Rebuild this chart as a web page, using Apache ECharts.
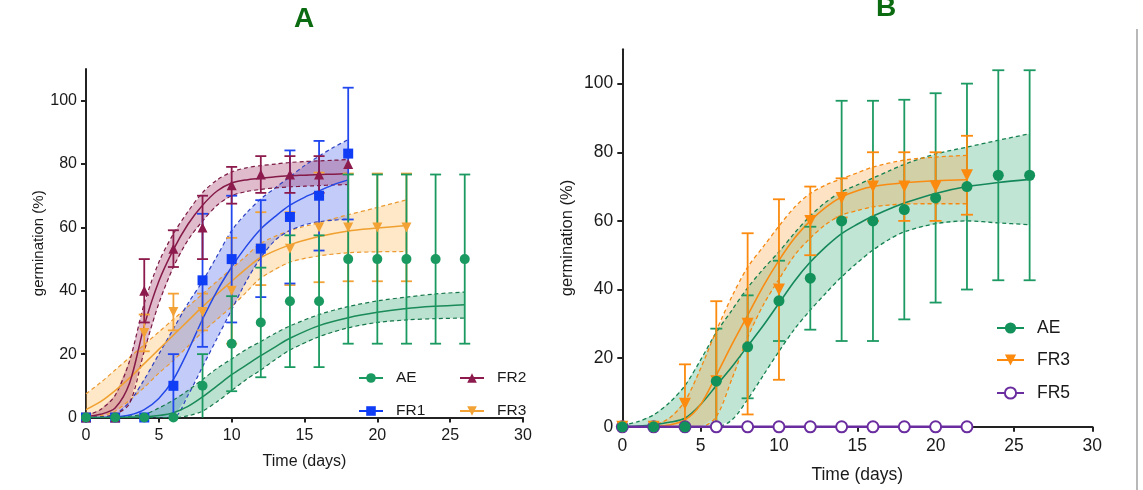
<!DOCTYPE html>
<html>
<head>
<meta charset="utf-8">
<script src="https://cdn.jsdelivr.net/npm/echarts@6/dist/echarts.min.js"></script>
<style>
  html, body { margin: 0; padding: 0; background: #fff; }
  #chart { width: 1143px; height: 490px; }
</style>
</head>
<body>
<div id="chart"></div>
<script>
// ===================== Panel A: observed germination (mean, SD) =====================
const aDaysAE  = [0, 2, 4, 6, 8, 10, 12, 14, 16, 18, 20, 22, 24, 26];
const aMeanAE  = [0, 0, 0, 0, 10, 23.3, 30, 36.7, 36.7, 50, 50, 50, 50, 50];
const aSdAE    = [0, 0, 0, 0, 10, 15, 17.3, 20.8, 20.8, 26.7, 26.7, 26.7, 26.7, 26.7];

const aDaysFR1 = [0, 2, 4, 6, 8, 10, 12, 14, 16, 18];
const aMeanFR1 = [0, 0, 0, 10, 43.3, 50, 53.3, 63.3, 70, 83.3];
const aSdFR1   = [0, 0, 0, 10, 21, 20, 15.3, 21, 17.3, 20.8];

const aDaysFR2 = [0, 2, 4, 6, 8, 10, 12, 14, 16, 18];
const aMeanFR2 = [0, 0, 40, 53.3, 60, 73.3, 76.7, 76.7, 76.7, 80];
const aSdFR2   = [0, 0, 10, 5.8, 10, 5.8, 5.8, 5.8, 5.8, 0];

const aDaysFR3 = [0, 2, 4, 6, 8, 10, 12, 14, 16, 18, 20, 22];
const aMeanFR3 = [0, 0, 26.7, 33.3, 33.3, 40, 53.3, 53.3, 60, 60, 60, 60];
const aSdFR3   = [0, 0, 5.8, 5.8, 5.8, 16.7, 11.5, 11.5, 17.3, 17, 17, 17];

// ===================== Panel A: fitted curves with confidence bands =====================
const aFitXAE  = [0, 2, 4, 5, 6, 7, 8, 9, 10, 11, 12, 13, 14, 16, 18, 20, 22, 24, 26];
const aFitAE   = [0, 0, 0.2, 0.6, 1.5, 3.5, 6.5, 10, 13.5, 16.5, 19.5, 22.3, 25, 29, 31.5, 33.2, 34.4, 35.1, 35.6];
const aHiAE    = [0, 0.2, 1, 3, 5.5, 8.5, 12, 15.5, 18.5, 21.5, 24, 26.6, 28.9, 32.5, 35, 36.8, 38, 39, 39.6];
const aLoAE    = [0, 0, 0, 0, 0, 0.5, 2, 5, 8.5, 12, 15, 18.3, 21.3, 25.5, 28.3, 30, 30.8, 31.2, 31.4];

const aFitXFR1 = [0, 1, 2, 3, 4, 5, 6, 7, 8, 9, 10, 11, 12, 13, 14, 15, 16, 17, 18];
const aFitFR1  = [0, 0, 0.2, 0.8, 2.5, 6, 12, 21, 31, 40, 47.5, 54, 59.5, 63.5, 67, 69.5, 71.5, 73.5, 75];
const aHiFR1   = [0, 0.1, 1, 5, 12, 20, 28, 36, 43, 51, 59, 64.5, 69, 72.5, 76, 79.5, 82.5, 85.3, 87.7];
const aLoFR1   = [0, 0, 0, 0, 0, 0, 0, 7, 16, 25, 34, 43, 50.5, 56, 59, 60.8, 61.8, 62.3, 62.6];

const aFitXFR2 = [0, 1, 2, 3, 4, 5, 6, 7, 8, 9, 10, 11, 12, 13, 14, 15, 16, 17, 18];
const aFitFR2  = [0.3, 1, 3, 11, 29, 43, 53, 61, 67, 71.5, 74, 75, 75.5, 76, 76.3, 76.5, 76.7, 76.8, 77];
const aHiFR2   = [0.6, 2.5, 7, 18, 36, 49, 58, 65, 71, 75, 77.5, 78.8, 79.5, 80, 80.5, 80.8, 81, 81.2, 81.4];
const aLoFR2   = [0, 0.2, 1, 4.5, 21, 36, 47.5, 56, 62, 67, 70, 71.3, 72, 72.5, 72.8, 73, 73.2, 73.4, 73.5];

const aFitXFR3 = [0, 1, 2, 3, 4, 5, 6, 7, 8, 9, 10, 11, 12, 14, 16, 18, 20, 22];
const aFitFR3  = [2.5, 5, 8.5, 12.5, 17, 21.5, 26, 30.5, 35, 39, 43, 47, 50.5, 54.5, 57.1, 58.9, 59.8, 60.6];
const aHiFR3   = [7.5, 11, 15, 19, 23, 27, 31, 35, 39, 43, 47, 51, 55, 59, 61.5, 64, 66.3, 68.7];
const aLoFR3   = [0, 0.5, 2, 5.5, 9.5, 14, 18, 22.5, 27, 31, 35, 39.5, 44, 49, 51, 52, 52.3, 52.4];

// ===================== Panel B: observed germination (mean, SD) =====================
const bDaysAE  = [0, 2, 4, 6, 8, 10, 12, 14, 16, 18, 20, 22, 24, 26];
const bMeanAE  = [0, 0, 0, 13.3, 23.3, 36.7, 43.3, 60, 60, 63.3, 66.7, 70, 73.3, 73.3];
const bSdAE    = [0, 0, 0, 15.3, 15, 11.7, 15, 35, 35, 32, 30.5, 30, 30.6, 30.6];

const bDaysFR3 = [0, 2, 4, 6, 8, 10, 12, 14, 16, 18, 20, 22];
const bMeanFR3 = [0, 0, 6.7, 13.3, 30, 40, 60, 66.7, 70, 70, 70, 73.3];
const bSdFR3   = [0, 0, 11.5, 23.3, 26.4, 26.3, 10, 5.7, 10, 10, 10, 11.5];

const bDaysFR5 = [0, 2, 4, 6, 8, 10, 12, 14, 16, 18, 20, 22];
const bMeanFR5 = [0, 0, 0, 0, 0, 0, 0, 0, 0, 0, 0, 0];

// ===================== Panel B: fitted curves with confidence bands =====================
const bFitXAE  = [0, 1, 2, 3, 4, 5, 6, 7, 8, 9, 10, 11, 12, 13, 14, 15, 16, 17, 18, 20, 22, 24, 26];
const bFitAE   = [0, 0.2, 0.6, 1.3, 2.5, 6.5, 12, 17.5, 23.5, 29.5, 36, 42.5, 48, 52.5, 56.3, 59, 61.4, 63.4, 65.2, 68, 70, 71.2, 72.1];
const bHiAE    = [0.5, 1.5, 3.5, 7, 12, 19.5, 27.5, 34, 40.5, 46, 51, 56.5, 61.5, 65.5, 68.5, 70.5, 72.5, 74.5, 76.5, 79.5, 81.5, 83.5, 85.4];
const bLoAE    = [0, 0, 0, 0, 0, 0, 0, 2, 8, 15, 22, 28.5, 34, 39, 43.7, 47.8, 51.5, 54.5, 56.8, 59.2, 60, 59.4, 58.9];

const bFitXFR3 = [0, 1, 2, 3, 4, 5, 6, 7, 8, 9, 10, 11, 12, 13, 14, 15, 16, 18, 20, 22];
const bFitFR3  = [0, 0, 0.1, 0.5, 2, 6.5, 15, 24, 32.5, 41, 48.5, 55, 60, 64, 67, 68.8, 70, 71.1, 71.7, 72];
const bHiFR3   = [0, 0, 0.5, 2.5, 7.5, 17, 28, 38, 46.5, 52.5, 58.5, 64, 68, 70.5, 72.3, 74, 75.7, 77.7, 78.6, 79.1];
const bLoFR3   = [0, 0, 0, 0, 0, 0, 3, 14, 26, 35.5, 43, 50, 55, 59, 61.7, 63, 64.1, 64.9, 65, 65];

// Axis tick values
const xTicks = [0, 5, 10, 15, 20, 25, 30];
const yTicks = [0, 20, 40, 60, 80, 100];

// ===================== helpers =====================
const FONT = 'Liberation Sans, Arial, sans-serif';
const pairs = (xs, ys) => xs.map((x, i) => [x, ys[i]]);

// Shaded confidence band as one polygon between lower and upper bounds
function band(gi, xs, lo, hi, fill) {
  return {
    type: 'custom', xAxisIndex: gi, yAxisIndex: gi, silent: true, z: 1,
    data: [[xs[0], lo[0]]],
    renderItem: (params, api) => {
      const pts = [];
      for (let i = 0; i < xs.length; i++) pts.push(api.coord([xs[i], hi[i]]));
      for (let i = xs.length - 1; i >= 0; i--) pts.push(api.coord([xs[i], lo[i]]));
      return { type: 'polygon', shape: { points: pts }, style: { fill: fill } };
    }
  };
}

// Plain curve (fit line or dashed band edge)
function curve(gi, xs, ys, color, width, dashed, z) {
  return {
    type: 'line', xAxisIndex: gi, yAxisIndex: gi, silent: true, z: z,
    data: pairs(xs, ys), smooth: 0.3, symbol: 'none', showSymbol: false,
    lineStyle: { color: color, width: width, type: dashed ? [4, 3] : 'solid' }
  };
}

// Vertical error bars (mean ± SD), lower end held at 0
function errBars(gi, xs, mean, sd, color, cap) {
  const data = [];
  xs.forEach((x, i) => {
    if (sd[i] > 0) data.push([x, Math.max(0, mean[i] - sd[i]), mean[i] + sd[i]]);
  });
  return {
    type: 'custom', xAxisIndex: gi, yAxisIndex: gi, silent: true, z: 4,
    encode: { x: 0, y: [1, 2] },
    data: data,
    renderItem: (params, api) => {
      const x = api.value(0), lo = api.value(1), hi = api.value(2);
      const pTop = api.coord([x, hi]);
      const pBot = api.coord([x, lo]);
      const st = { stroke: color, lineWidth: 1.8 };
      const kids = [
        { type: 'line', shape: { x1: pTop[0], y1: pTop[1], x2: pBot[0], y2: pBot[1] }, style: st },
        { type: 'line', shape: { x1: pTop[0] - cap, y1: pTop[1], x2: pTop[0] + cap, y2: pTop[1] }, style: st }
      ];
      if (lo > 0) {
        kids.push({ type: 'line', shape: { x1: pBot[0] - cap, y1: pBot[1], x2: pBot[0] + cap, y2: pBot[1] }, style: st });
      }
      return { type: 'group', children: kids };
    }
  };
}

// Observed means as markers
function points(gi, name, xs, ys, color, symbol, size, rotate, showLine, z) {
  const hollow = symbol === 'emptyCircle';
  return {
    name: name, type: 'line', xAxisIndex: gi, yAxisIndex: gi, z: z || 6,
    data: pairs(xs, ys), symbol: symbol, symbolSize: size, symbolRotate: rotate || 0,
    showSymbol: true, silent: true,
    itemStyle: hollow ? { color: color, borderColor: color, borderWidth: 2.5 }
                      : { color: color, borderColor: color, borderWidth: 0 },
    lineStyle: { color: color, width: 2.5, opacity: showLine ? 1 : 0 }
  };
}

function legendAt(name, color, left, top, fs, iw, ih) {
  return {
    data: [{ name: name, lineStyle: { color: color, opacity: 1, width: 2, type: 'solid' } }],
    left: left, top: top, padding: 0, itemWidth: iw, itemHeight: ih,
    selectedMode: false,
    textStyle: { fontSize: fs, fontFamily: FONT, color: '#1a1a1a', padding: [0, 0, 0, 8] }
  };
}

function xAxisOf(gi, fs, nameGap) {
  return {
    type: 'value', gridIndex: gi, min: 0, max: 30, interval: 5,
    name: 'Time (days)', nameLocation: 'middle', nameGap: nameGap,
    nameTextStyle: { fontSize: fs, fontFamily: FONT, color: '#1a1a1a' },
    axisLine: { onZero: false, lineStyle: { color: '#222', width: 2 } },
    axisTick: { show: true, length: 5, lineStyle: { color: '#222', width: 2 } },
    splitLine: { show: false },
    axisLabel: { fontSize: fs, fontFamily: FONT, color: '#1a1a1a', margin: 10 }
  };
}

function yAxisOf(gi, fs, nameGap) {
  return {
    type: 'value', gridIndex: gi, min: 0, max: 110, interval: 20,
    name: 'germination (%)', nameLocation: 'middle', nameGap: nameGap,
    nameTextStyle: { fontSize: fs - 1, fontFamily: FONT, color: '#1a1a1a' },
    axisLine: { onZero: false, lineStyle: { color: '#222', width: 2 } },
    axisTick: { show: true, length: 5, customValues: yTicks, lineStyle: { color: '#222', width: 2 } },
    splitLine: { show: false },
    axisLabel: { fontSize: fs, fontFamily: FONT, color: '#1a1a1a', margin: 9, customValues: yTicks }
  };
}

// ===================== colours =====================
const cAE_A = '#1a9a60', cFR1 = '#0f3df5', cFR2 = '#8c1a4c', cFR3_A = '#f3a236';
const cAE_B = '#12925a', cFR3_B = '#fb8a0e', cFR5 = '#6a2d9f';

const series = [
  // --- Panel A bands ---
  band(0, aFitXFR3, aLoFR3, aHiFR3, 'rgba(252,178,70,0.30)'),
  band(0, aFitXFR1, aLoFR1, aHiFR1, 'rgba(55,85,235,0.30)'),
  band(0, aFitXFR2, aLoFR2, aHiFR2, 'rgba(150,30,85,0.30)'),
  band(0, aFitXAE, aLoAE, aHiAE, 'rgba(30,160,100,0.30)'),
  // --- Panel A band edges ---
  curve(0, aFitXFR3, aHiFR3, '#eb9a30', 1.2, true, 2),
  curve(0, aFitXFR3, aLoFR3, '#eb9a30', 1.2, true, 2),
  curve(0, aFitXFR1, aHiFR1, '#2b3fc4', 1.2, true, 2),
  curve(0, aFitXFR1, aLoFR1, '#2b3fc4', 1.2, true, 2),
  curve(0, aFitXFR2, aHiFR2, '#7a1842', 1.2, true, 2),
  curve(0, aFitXFR2, aLoFR2, '#7a1842', 1.2, true, 2),
  curve(0, aFitXAE, aHiAE, '#16784a', 1.2, true, 2),
  curve(0, aFitXAE, aLoAE, '#16784a', 1.2, true, 2),
  // --- Panel A fits ---
  curve(0, aFitXFR3, aFitFR3, '#f0a030', 1.5, false, 3),
  curve(0, aFitXFR1, aFitFR1, '#2448e8', 1.5, false, 3),
  curve(0, aFitXFR2, aFitFR2, '#851a48', 1.5, false, 3),
  curve(0, aFitXAE, aFitAE, '#1a8a58', 1.5, false, 3),
  // --- Panel A error bars ---
  errBars(0, aDaysFR3, aMeanFR3, aSdFR3, cFR3_A, 5.5),
  errBars(0, aDaysFR1, aMeanFR1, aSdFR1, '#2147ee', 5.5),
  errBars(0, aDaysFR2, aMeanFR2, aSdFR2, cFR2, 5.5),
  errBars(0, aDaysAE, aMeanAE, aSdAE, cAE_A, 5.5),
  // --- Panel A markers ---
  points(0, 'FR3', aDaysFR3, aMeanFR3, cFR3_A, 'triangle', 10, 180),
  points(0, 'FR1', aDaysFR1, aMeanFR1, cFR1, 'rect', 10),
  points(0, 'FR2', aDaysFR2, aMeanFR2, cFR2, 'triangle', 10),
  points(0, 'AE', aDaysAE, aMeanAE, cAE_A, 'circle', 10),

  // --- Panel B bands ---
  band(1, bFitXAE, bLoAE, bHiAE, 'rgba(30,160,100,0.28)'),
  band(1, bFitXFR3, bLoFR3, bHiFR3, 'rgba(253,160,60,0.30)'),
  // --- Panel B band edges ---
  curve(1, bFitXAE, bHiAE, '#15804f', 1.3, true, 2),
  curve(1, bFitXAE, bLoAE, '#15804f', 1.3, true, 2),
  curve(1, bFitXFR3, bHiFR3, '#f5890f', 1.3, true, 2),
  curve(1, bFitXFR3, bLoFR3, '#f5890f', 1.3, true, 2),
  // --- Panel B fits ---
  curve(1, bFitXAE, bFitAE, '#14885a', 1.6, false, 3),
  curve(1, bFitXFR3, bFitFR3, '#f98c12', 1.6, false, 3),
  // --- Panel B error bars ---
  errBars(1, bDaysAE, bMeanAE, bSdAE, '#1d9a63', 6),
  errBars(1, bDaysFR3, bMeanFR3, bSdFR3, cFR3_B, 6),
  // --- Panel B markers (hollow FR5 sits beneath the filled AE dots) ---
  points(1, 'FR5', bDaysFR5, bMeanFR5, cFR5, 'emptyCircle', 11, 0, true, 5),
  points(1, 'FR3 ', bDaysFR3, bMeanFR3, cFR3_B, 'triangle', 12, 180, false, 6),
  points(1, 'AE ', bDaysAE, bMeanAE, cAE_B, 'circle', 11, 0, false, 7)
];

const option = {
  animation: false,
  backgroundColor: '#ffffff',
  textStyle: { fontFamily: FONT },
  grid: [
    { left: 86, top: 69, width: 437, height: 348.5 },
    { left: 622.3, top: 49.3, width: 470, height: 377.5 }
  ],
  xAxis: [xAxisOf(0, 16, 36), xAxisOf(1, 17.5, 39)],
  yAxis: [yAxisOf(0, 16, 35), yAxisOf(1, 17.5, 46)],
  legend: [
    legendAt('AE', cAE_A, 358, 370, 15.5, 24, 12),
    legendAt('FR2', cFR2, 459, 370, 15.5, 24, 12),
    legendAt('FR1', cFR1, 358, 403, 15.5, 24, 12),
    legendAt('FR3', cFR3_A, 459, 403, 15.5, 24, 12),
    legendAt('AE ', cAE_B, 996, 319, 17.5, 27, 14),
    legendAt('FR3 ', cFR3_B, 996, 351, 17.5, 27, 14),
    legendAt('FR5', cFR5, 996, 384, 17.5, 27, 14)
  ],
  graphic: [
    { type: 'text', left: 294, top: 5, silent: true,
      style: { text: 'A', font: 'bold 28px ' + FONT, fill: '#0b6b10' } },
    { type: 'text', left: 876, top: -6, silent: true,
      style: { text: 'B', font: 'bold 28px ' + FONT, fill: '#0b6b10' } },
    { type: 'rect', silent: true, shape: { x: 1136, y: 29, width: 2, height: 461 },
      style: { fill: '#b8b8b8' } }
  ],
  series: series
};

const chart = echarts.init(document.getElementById('chart'), null, { renderer: 'canvas' });
chart.setOption(option);
</script>
</body>
</html>
